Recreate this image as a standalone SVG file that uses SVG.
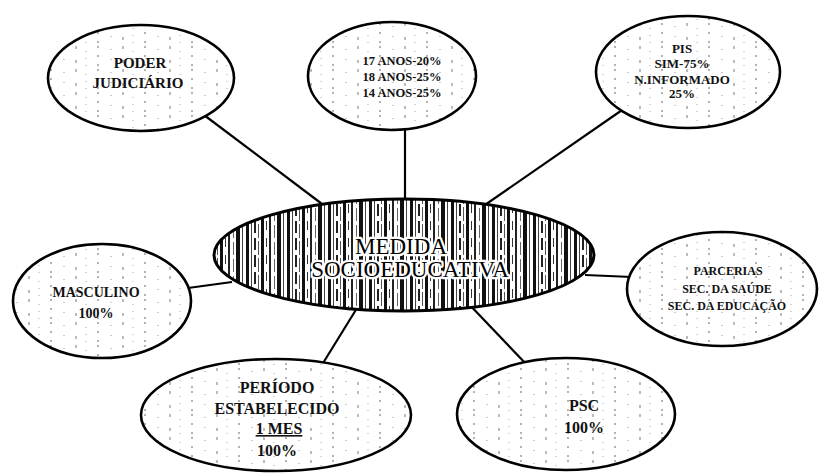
<svg xmlns="http://www.w3.org/2000/svg" width="820" height="473" viewBox="0 0 820 473">
<defs>
<pattern id="noise" width="47" height="23" patternUnits="userSpaceOnUse">
<rect width="47" height="23" fill="#fff"/>
<line x1="4" y1="0" x2="4" y2="23" stroke="#666" stroke-width="1" stroke-dasharray="2 7"/>
<line x1="17" y1="3" x2="17" y2="23" stroke="#999" stroke-width="1" stroke-dasharray="1 9"/>
<line x1="29" y1="0" x2="29" y2="23" stroke="#777" stroke-width="1" stroke-dasharray="3 11"/>
<line x1="39" y1="5" x2="39" y2="23" stroke="#aaa" stroke-width="1" stroke-dasharray="1 6"/>
</pattern>
<pattern id="stripes" width="41" height="17" patternUnits="userSpaceOnUse">
<rect width="41" height="17" fill="#fff"/>
<rect x="0" y="0" width="3" height="17" fill="#111"/>
<rect x="5" y="0" width="1" height="17" fill="#444"/>
<rect x="8" y="0" width="2" height="12" fill="#222"/>
<rect x="12" y="3" width="1" height="14" fill="#555"/>
<rect x="15" y="0" width="3" height="17" fill="#111"/>
<rect x="20" y="0" width="1" height="9" fill="#333"/>
<rect x="23" y="0" width="2" height="17" fill="#222"/>
<rect x="28" y="4" width="1" height="13" fill="#666"/>
<rect x="31" y="0" width="4" height="17" fill="#111"/>
<rect x="37" y="0" width="1" height="17" fill="#444"/>
</pattern>
<style>
.ell{fill:url(#noise);stroke:#000;stroke-width:2.6}
.core{fill:url(#stripes);stroke:#000;stroke-width:3}
.lbl{font-family:"Liberation Serif","Times New Roman",serif;fill:#111;text-anchor:middle;font-weight:bold}
.big{font-family:"Liberation Serif","Times New Roman",serif;fill:#000;text-anchor:middle;font-size:23px;stroke:#fff;stroke-width:4.5;stroke-linejoin:round;paint-order:stroke}
.conn line{stroke:#000;stroke-width:2.2}
</style>
</defs>
<rect width="820" height="473" fill="#fff"/>
<g id="connectors" class="conn">
<line x1="200" y1="112" x2="330" y2="210"/>
<line x1="405" y1="125" x2="405" y2="205"/>
<line x1="625" y1="108" x2="482" y2="207"/>
<line x1="188" y1="288" x2="232" y2="282"/>
<line x1="585" y1="275" x2="632" y2="277"/>
<line x1="362" y1="300" x2="320" y2="368"/>
<line x1="465" y1="300" x2="528" y2="366"/>
</g>
<g id="poder">
<ellipse class="ell" cx="141" cy="78" rx="93" ry="53"/>
<text class="lbl" x="140" y="68" font-size="15">PODER</text>
<text class="lbl" x="138" y="88" font-size="15">JUDICIÁRIO</text>
</g>
<g id="idades">
<ellipse class="ell" cx="392" cy="76" rx="84" ry="54"/>
<text class="lbl" x="402" y="65" font-size="12.5">17 ANOS-20%</text>
<text class="lbl" x="402" y="81" font-size="12.5">18 ANOS-25%</text>
<text class="lbl" x="402" y="97" font-size="12.5">14 ANOS-25%</text>
</g>
<g id="pis">
<ellipse class="ell" cx="688" cy="72" rx="92" ry="56"/>
<text class="lbl" x="682" y="53" font-size="13">PIS</text>
<text class="lbl" x="682" y="68" font-size="13">SIM-75%</text>
<text class="lbl" x="682" y="84" font-size="13">N.INFORMADO</text>
<text class="lbl" x="682" y="98" font-size="13">25%</text>
</g>
<g id="medida">
<ellipse class="core" cx="404" cy="255" rx="190" ry="56"/>
<text class="big" x="401" y="254">MEDIDA</text>
<text class="big" x="410" y="277">SOCIOEDUCATIVA</text>
</g>
<g id="masculino">
<ellipse class="ell" cx="102" cy="301" rx="89" ry="57"/>
<text class="lbl" x="96" y="297" font-size="14">MASCULINO</text>
<text class="lbl" x="96" y="318" font-size="14">100%</text>
</g>
<g id="parcerias">
<ellipse class="ell" cx="722" cy="289" rx="95" ry="57"/>
<text class="lbl" x="728" y="275" font-size="12">PARCERIAS</text>
<text class="lbl" x="727" y="293" font-size="12">SEC. DA SAÚDE</text>
<text class="lbl" x="727" y="310" font-size="12">SEC. DA EDUCAÇÃO</text>
</g>
<g id="periodo">
<ellipse class="ell" cx="276" cy="415" rx="135" ry="56"/>
<text class="lbl" x="277" y="393" font-size="16">PERÍODO</text>
<text class="lbl" x="277" y="414" font-size="16">ESTABELECIDO</text>
<text class="lbl" x="279" y="434" font-size="16" text-decoration="underline">1 MES</text>
<text class="lbl" x="277" y="456" font-size="16">100%</text>
</g>
<g id="psc">
<ellipse class="ell" cx="566" cy="414" rx="109" ry="56"/>
<text class="lbl" x="584" y="411" font-size="16">PSC</text>
<text class="lbl" x="584" y="433" font-size="16">100%</text>
</g>
</svg>
